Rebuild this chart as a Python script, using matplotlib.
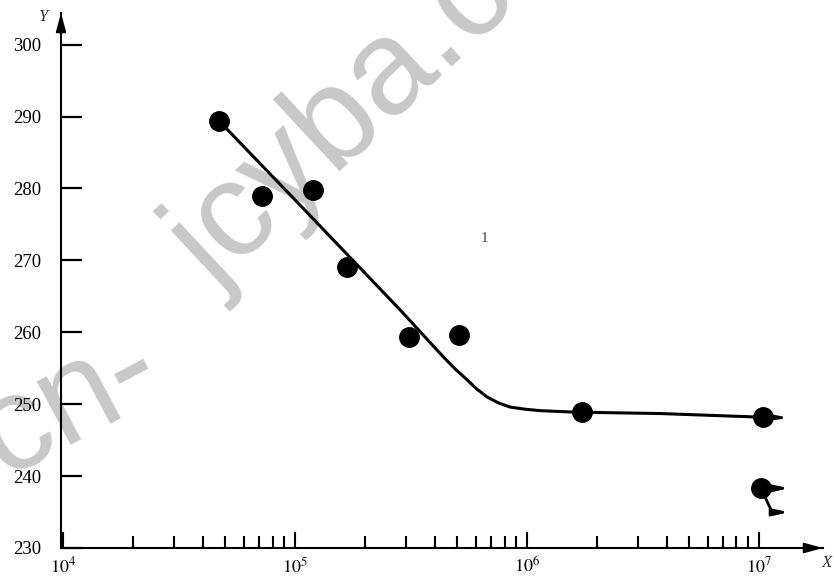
import matplotlib.pyplot as plt
from matplotlib.ticker import FixedLocator, LogLocator, NullFormatter

plt.rcParams['font.family'] = ['Liberation Serif', 'DejaVu Serif']
plt.rcParams['mathtext.fontset'] = 'stix'

# 试验点 (循环次数, 应力)
cycles = [4.7e4, 7.2e4, 1.2e5, 1.67e5, 3.1e5, 5.1e5, 1.73e6, 1.04e7]
stress = [289.4, 279.0, 279.8, 269.1, 259.3, 259.6, 248.9, 248.2]
# 未断试样
runout_x = [1.02e7]
runout_y = [238.3]

# 拟合曲线
curve_x = [4.7e4, 1.05e5, 2.84e5, 4.35e5, 4.90e5, 5.51e5, 6.08e5, 6.73e5,
           7.50e5, 8.45e5, 9.8e5, 1.14e6, 1.58e6, 3.74e6, 1.01e7, 1.36e7]
curve_y = [289.4, 277.7, 263.1, 256.6, 254.9, 253.4, 252.1, 251.0,
           250.2, 249.6, 249.3, 249.1, 248.9, 248.7, 248.2, 248.1]

y_ticks = [230, 240, 250, 260, 270, 280, 290, 300]
x_major = [1e4, 1e5, 1e6, 1e7]
x_labels = ['$10^4$', '$10^5$', '$10^6$', '$10^7$']

W, H = 834, 581
fig = plt.figure(figsize=(W / 100, H / 100), dpi=100)
ax = fig.add_axes([61 / W, 33 / H, (823 - 61) / W, (548 - 13) / H])
ax.patch.set_visible(False)

ax.set_xscale('log')
ax.set_xlim(10 ** 3.991, 10 ** 7.276)
ax.set_ylim(230, 304.4)

for s in ['top', 'right']:
    ax.spines[s].set_visible(False)
for s in ['left', 'bottom']:
    ax.spines[s].set_linewidth(1.5)
    ax.spines[s].set_color('black')

ax.set_yticks(y_ticks)
ax.tick_params(axis='y', direction='in', length=15, width=1.6, pad=14,
               labelsize=13.5)
ax.xaxis.set_major_locator(FixedLocator(x_major))
ax.set_xticklabels(x_labels)
ax.xaxis.set_minor_locator(LogLocator(base=10, subs=range(2, 10), numticks=20))
ax.xaxis.set_minor_formatter(NullFormatter())
ax.tick_params(axis='x', which='major', direction='in', length=11.5,
               width=1.5, pad=6, labelsize=13)
ax.tick_params(axis='x', which='minor', direction='in', length=8.5, width=1.5)

# 坐标轴箭头
arrow = dict(arrowstyle='-|>,head_length=1.1,head_width=0.3', color='black',
             lw=1.5, shrinkA=0, shrinkB=0)
ax.annotate('', xy=(1, 0), xytext=(0.97, 0), xycoords='axes fraction',
            arrowprops=arrow, annotation_clip=False)
ax.annotate('', xy=(0, 1), xytext=(0, 0.96), xycoords='axes fraction',
            arrowprops=arrow, annotation_clip=False)

ax.plot(curve_x[:-1], curve_y[:-1], color='black', lw=2.2, zorder=3,
        solid_joinstyle='round')
ax.annotate('', xy=(curve_x[-1], curve_y[-1]), xytext=(curve_x[-2], curve_y[-2]),
            arrowprops=dict(arrowstyle='-|>,head_length=1.2,head_width=0.2',
                            color='black', lw=2, shrinkA=0, shrinkB=0),
            annotation_clip=False)

ax.plot(cycles, stress, 'o', color='black', markersize=14, zorder=4)
ax.plot(runout_x, runout_y, 'o', color='black', markersize=14, zorder=4)

# 未断标记
rarrow = dict(arrowstyle='<|-,head_length=0.9,head_width=0.2', color='black',
              lw=2, shrinkA=0, shrinkB=6)
ax.annotate('', xy=(runout_x[0], runout_y[0]), xytext=(28, 0),
            textcoords='offset pixels', arrowprops=rarrow)
ax.annotate('', xy=(runout_x[0], runout_y[0]), xytext=(28, -24),
            textcoords='offset pixels',
            arrowprops=dict(rarrow, connectionstyle='angle,angleA=0,angleB=-65,rad=0'))

ax.text(484 / W, 1 - 238 / H, '1', transform=fig.transFigure, fontsize=11,
        color='#444444', ha='center', va='center')
fig.text(43 / W, 1 - 17 / H, 'Y', fontsize=12, style='italic', color='#333333',
         ha='center', va='center')
fig.text(827 / W, 1 - 563 / H, 'X', fontsize=12, style='italic', color='#333333',
         ha='center', va='center')

# 水印
wm = dict(transform=fig.transFigure, fontsize=97, color='#c8c8c8',
          family='Liberation Sans', ha='left', va='baseline',
          rotation_mode='anchor', zorder=0, clip_on=False)
ax.text(3 / W, 1 - 478 / H, 'cn-', rotation=28, **wm)
ax.text(214 / W, 1 - 292 / H, 'jcyba.com', rotation=43, **wm)

fig.savefig('out.png', dpi=100)
